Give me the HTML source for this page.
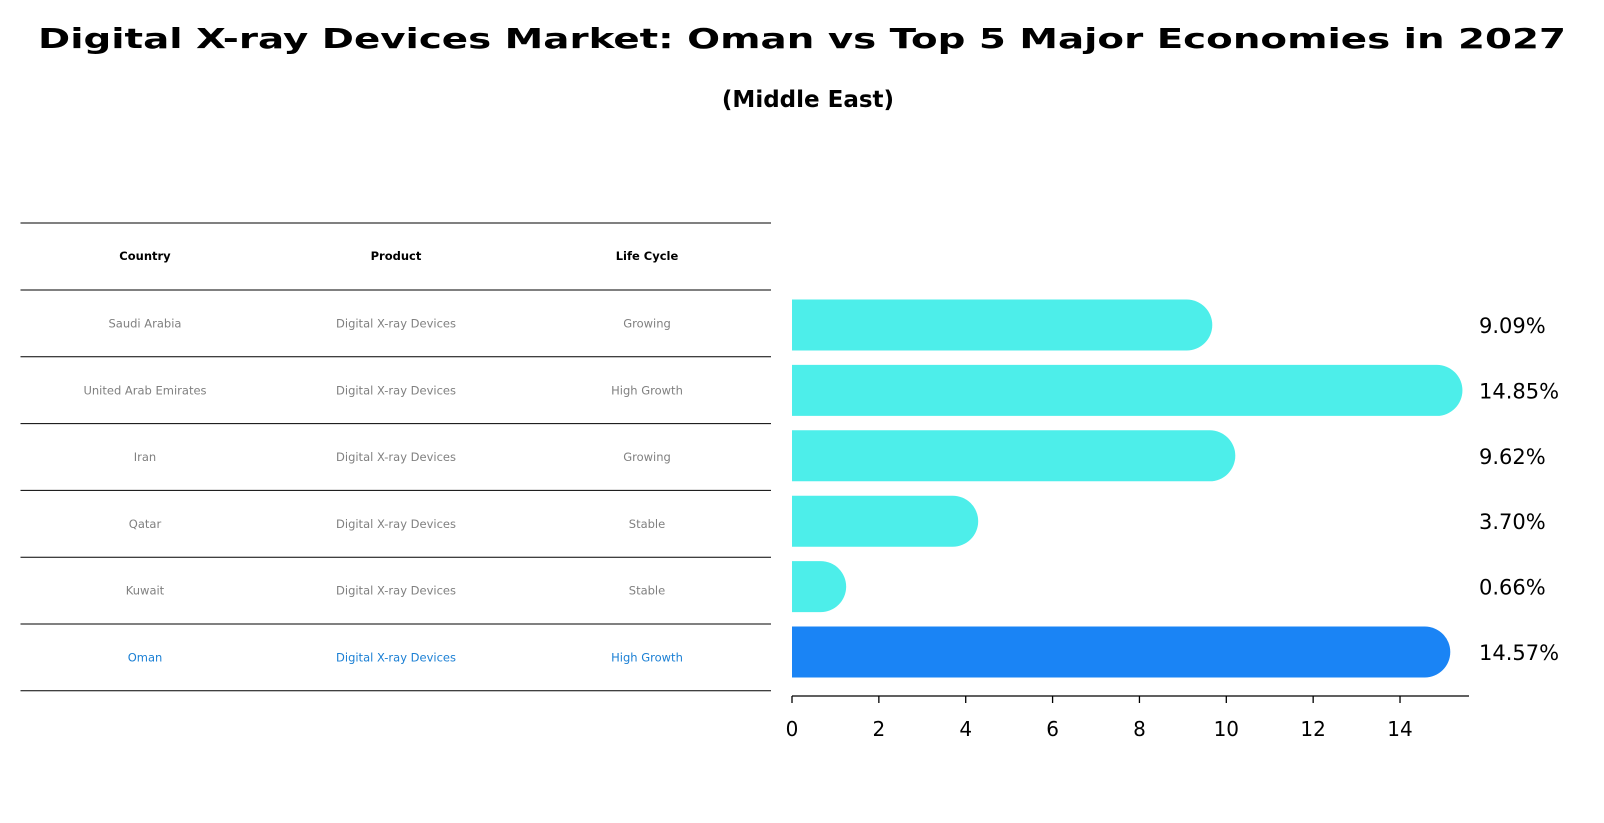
<!DOCTYPE html>
<html><head><meta charset="utf-8"><style>
body{margin:0;background:#fff;}
svg{display:block;font-family:"DejaVu Sans","Liberation Sans",sans-serif;}
</style></head><body>
<svg id="chart" width="1604" height="823" viewBox="0 0 1604 823">
<text x="802" y="48" text-anchor="middle" font-size="28" font-weight="bold" textLength="1528" lengthAdjust="spacingAndGlyphs">Digital X-ray Devices Market: Oman vs Top 5 Major Economies in 2027</text>
<text x="808" y="107" text-anchor="middle" font-size="23" font-weight="bold">(Middle East)</text>
<g id="table"></g>
<g id="bars"></g>
</svg>
<script>
const countries=["Saudi Arabia","United Arab Emirates","Iran","Qatar","Kuwait","Oman"];
const products=["Digital X-ray Devices","Digital X-ray Devices","Digital X-ray Devices","Digital X-ray Devices","Digital X-ray Devices","Digital X-ray Devices"];
const lifecycles=["Growing","High Growth","Growing","Stable","Stable","High Growth"];
const values=[9.09,14.85,9.62,3.70,0.66,14.57];
const valueLabels=["9.09%","14.85%","9.62%","3.70%","0.66%","14.57%"];
const ticks=[0,2,4,6,8,10,12,14];
const NS="http://www.w3.org/2000/svg";
function mk(t,a,p){const e=document.createElementNS(NS,t);for(const k in a)e.setAttribute(k,a[k]);p.appendChild(e);return e;}
const x0=792,unit=43.43,r=25.5;
const xs=v=>x0+v*unit;
const rowY=i=>325+i*65.4;
const table=document.getElementById('table'),bars=document.getElementById('bars');
// table
const lineYs=[223,290];for(let i=0;i<6;i++)lineYs.push(290+(i+1)*66.8);
lineYs.forEach((y,i)=>{const l=mk('line',{x1:20.5,x2:771,y1:y,y2:y,stroke:'#000','stroke-width':1},table);

});
const colX=[145,396,647];
["Country","Product","Life Cycle"].forEach((h,j)=>{const t=mk('text',{x:colX[j],y:260,'text-anchor':'middle','font-size':11.5,'font-weight':'bold'},table);t.textContent=h;

});
countries.forEach((c,i)=>{const y=323.5+i*66.8+4;const col=i===5?'#1a7fd4':'#808080';
[c,products[i],lifecycles[i]].forEach((s,j)=>{const t=mk('text',{x:colX[j],y:y,'text-anchor':'middle','font-size':11.5,fill:col},table);t.textContent=s;

});});
// bars
values.forEach((v,i)=>{const cy=rowY(i),h=51,y=cy-h/2,xe=xs(v);const col=i===5?'#1a84f5':'#4deeea';
const p=mk('path',{d:`M${x0},${y} H${xe} A${r},${r} 0 0 1 ${xe},${y+h} H${x0} Z`,fill:col},bars);


const t=mk('text',{x:1479,y:cy+8,'font-size':21},bars);t.textContent=valueLabels[i];

});
const ax=mk('line',{x1:x0,x2:1469,y1:696,y2:696,stroke:'#000','stroke-width':1.3},bars);


ticks.forEach(t=>{const tk=mk('line',{x1:xs(t),x2:xs(t),y1:696,y2:703,stroke:'#000','stroke-width':1.3},bars);


const l=mk('text',{x:xs(t),y:736,'text-anchor':'middle','font-size':20},bars);l.textContent=t;

});
</script>
</body></html>
